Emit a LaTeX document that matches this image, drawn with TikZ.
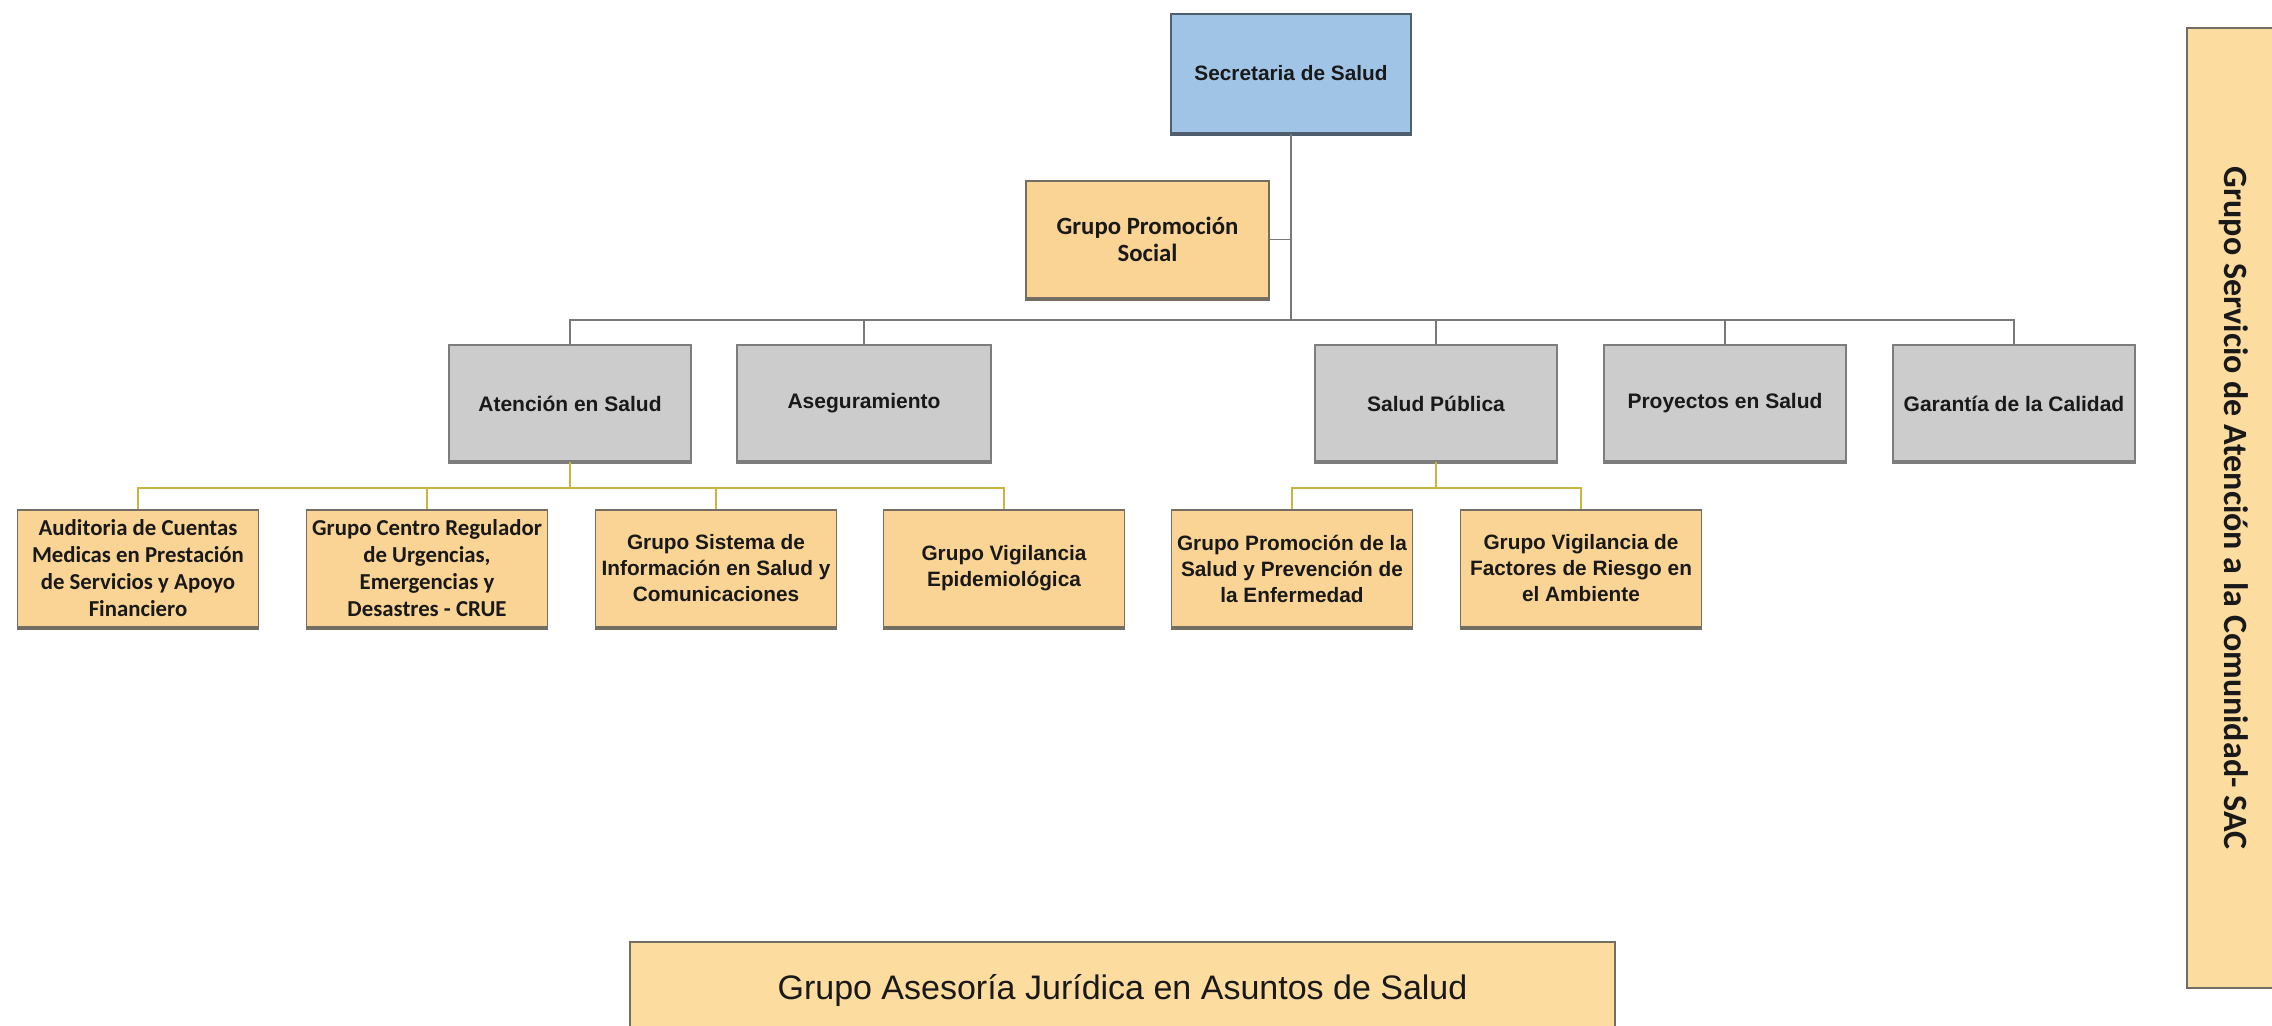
\documentclass[tikz,border=0pt]{standalone}
\usepackage{fontspec}
\setmainfont{Liberation Sans}
\newfontfamily\calib{Carlito}
\definecolor{bluef}{RGB}{160,196,230}
\definecolor{blueb}{RGB}{80,95,110}
\definecolor{grayf}{RGB}{204,204,204}
\definecolor{grayb}{RGB}{125,125,125}
\definecolor{yelf}{RGB}{250,212,148}
\definecolor{yelf2}{RGB}{253,220,160}
\definecolor{yelb}{RGB}{115,110,100}
\definecolor{treec}{RGB}{120,120,120}
\definecolor{ybusc}{RGB}{205,180,60}
\definecolor{txt}{RGB}{25,25,25}
\tikzset{
  basebox/.style={draw, line width=0.7pt, inner sep=1pt, align=center, text=txt},
  secbox/.style={basebox, draw=blueb, fill=bluef, minimum width=120pt, minimum height=59.5pt,
    font=\bfseries\fontsize{10.4}{12.5}\selectfont},
  graybox/.style={basebox, draw=grayb, fill=grayf, minimum width=121pt, minimum height=58pt,
    font=\bfseries\fontsize{10.5}{12.5}\selectfont},
  yelbox/.style={basebox, draw=yelb, fill=yelf, minimum width=120.5pt, minimum height=58.5pt,
    font=\bfseries\fontsize{10.4}{13}\selectfont},
  calbox/.style={yelbox, font=\calib\bfseries\fontsize{11.4}{13.5}\selectfont},
  tree/.style={draw=treec, line width=0.75pt},
  ybus/.style={draw=ybusc, line width=0.9pt},
  shadowline/.style={line width=2pt, line cap=butt},
}
\begin{document}
\begin{tikzpicture}[x=0.5pt, y=-0.5pt]
\clip (0,0) rectangle (2272,1026);
\fill[white] (0,0) rectangle (2272,1026);

% top
\node[secbox] (sec) at (1291,73.5) {Secretaria de Salud};
\node[yelbox, font=\calib\bfseries\fontsize{12.4}{13.5}\selectfont, minimum width=121.5pt] (gps) at (1147.5,239.5) {Grupo Promoción\\Social};

% level 2
\node[graybox] (aten) at (570,403.5) {Atención en Salud};
\node[graybox, minimum width=127pt] (aseg) at (864,403.5) {Aseguramiento};
\node[graybox] (spub) at (1436,403.5) {Salud Pública};
\node[graybox] (proy) at (1725,403.5) {Proyectos en Salud};
\node[graybox] (gara) at (2014,403.5) {Garantía de la Calidad};

% level 3
\node[calbox] (aud) at (138,568.5) {Auditoria de Cuentas\\Medicas en Prestación\\de Servicios y Apoyo\\Financiero};
\node[calbox] (crue) at (427,568.5) {Grupo Centro Regulador\\de Urgencias,\\Emergencias y\\Desastres - CRUE};
\node[yelbox] (sis) at (716,568.5) {Grupo Sistema de\\Información en Salud y\\Comunicaciones};
\node[yelbox] (vep) at (1004,568.5) {Grupo Vigilancia\\Epidemiológica};
\node[yelbox] (pse) at (1292,568.5) {Grupo Promoción de la\\Salud y Prevención de\\la Enfermedad};
\node[yelbox] (vfr) at (1581,568.5) {Grupo Vigilancia de\\Factores de Riesgo en\\el Ambiente};

% side and bottom
\node[basebox, draw=yelb, fill=yelf2, rotate=-90, minimum width=480pt, minimum height=46.5pt,
  font=\calib\bfseries\fontsize{17}{19}\selectfont] (sac) at (2233.5,508) {Grupo Servicio de Atención a la Comunidad- SAC};
\node[basebox, draw=yelb, fill=yelf2, minimum width=492.5pt, minimum height=49pt,
  font=\fontsize{17}{20}\selectfont] (jur) at (1122.5,991) {Grupo Asesoría Jurídica en Asuntos de Salud};

% bottom shadow edges
\foreach \n in {aten,aseg,spub,proy,gara}{
  \draw[shadowline, grayb] (\n.south west) -- (\n.south east);
  \draw[line width=1.2pt, grayb] (\n.north west) -- (\n.north east);
}
\draw[shadowline, blueb] (sec.south west) -- (sec.south east);
\foreach \n in {gps,aud,crue,sis,vep,pse,vfr}{
  \draw[shadowline, yelb] (\n.south west) -- (\n.south east);
}

% gray tree
\coordinate (j0) at (1291,320);
\draw[tree] (sec.south) -- (j0);
\draw[tree] (gps.east) -- (gps.east -| j0);
\draw[tree] (aten.north) -- (aten.north |- j0) -- (gara.north |- j0) -- (gara.north);
\foreach \n in {aseg,spub,proy}{
  \draw[tree] (\n.north) -- (\n.north |- j0);
}

% yellow buses
\coordinate (ja) at (570,488);
\draw[ybus] (aten.south) -- (ja);
\draw[ybus] (aud.north) -- (aud.north |- ja) -- (vep.north |- ja) -- (vep.north);
\draw[ybus] (crue.north) -- (crue.north |- ja);
\draw[ybus] (sis.north) -- (sis.north |- ja);
\coordinate (jb) at (1436,488);
\draw[ybus] (spub.south) -- (jb);
\draw[ybus] (pse.north) -- (pse.north |- jb) -- (vfr.north |- jb) -- (vfr.north);
\end{tikzpicture}
\end{document}
